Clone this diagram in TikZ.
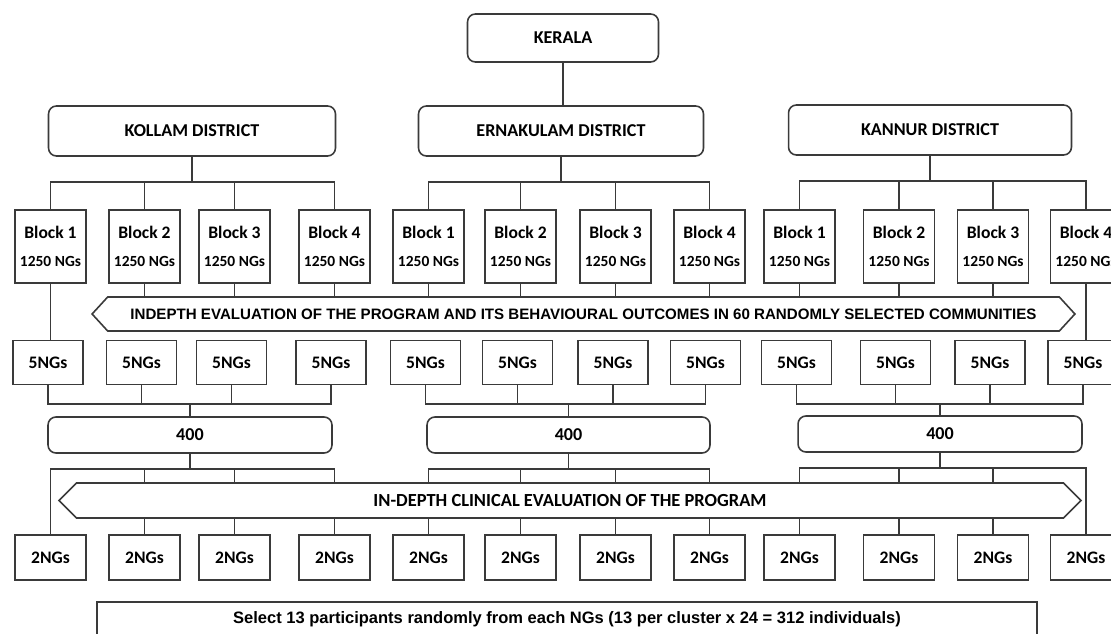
\documentclass[tikz,border=0pt]{standalone}
\usepackage{fontspec}
\setmainfont{Carlito}
\newfontfamily\heavyfont{Liberation Sans}
\usetikzlibrary{shapes.symbols}
\definecolor{linegray}{HTML}{3A3A3A}
\tikzset{dbox/.style={draw=linegray,line width=.9pt,rounded corners=4.5pt,minimum height=1cm,inner sep=0pt,font=\bfseries\fontsize{10.3}{12}\selectfont},blk/.style={draw=linegray,line width=.9pt,minimum width=1.42cm,minimum height=1.46cm,inner sep=0pt,align=center,font=\bfseries\fontsize{10}{16}\selectfont},ng/.style={draw=linegray,line width=.9pt,minimum width=1.4cm,minimum height=.88cm,inner sep=0pt,font=\bfseries\fontsize{10}{12}\selectfont},band/.style={signal,signal to=west and east,draw=linegray,line width=.9pt,fill=white,inner sep=0pt},ln/.style={draw=linegray,line width=.9pt}}
\begin{document}
\begin{tikzpicture}[x=0.02cm,y=-0.02cm]
\useasboundingbox (0,0) rectangle (1111,634);\fill[white] (0,0) rectangle (1111,634);\clip (0,0) rectangle (1111,634);
\node[dbox,minimum width=3.82cm,minimum height=.96cm] (ker) at (563,38) {KERALA};
\node[dbox,minimum width=5.74cm] (d1) at (192,131) {KOLLAM DISTRICT};\node[dbox,minimum width=5.7cm] (d2) at (561,131) {ERNAKULAM DISTRICT};\node[dbox,minimum width=5.66cm] (d3) at (930,130) {KANNUR DISTRICT};
\foreach \g/\i/\xa/\xb in {1/1/50.5/48,1/2/144.5/141.5,1/3/234.5/231.5,1/4/334.5/331,2/1/428.5/425.5,2/2/520.5/517.5,2/3/615.5/613,2/4/709.5/705.5,3/1/799.5/796.5,3/2/899/895.5,3/3/993/990,3/4/1086/1083}{\node[blk] (b\g\i) at (\xa,246.5) {Block \i\\\fontsize{8.8}{16}\selectfont 1250 NGs};\node[ng] (f\g\i) at (\xb,362.5) {5NGs};\node[ng,minimum width=1.42cm,minimum height=.9cm] (t\g\i) at (\xa,557.5) {2NGs};}
\node[dbox,minimum width=5.68cm,minimum height=.72cm] (c1) at (190,435) {400};\node[dbox,minimum width=5.66cm,minimum height=.72cm] (c2) at (568.5,435) {400};\node[dbox,minimum width=5.68cm,minimum height=.72cm] (c3) at (940,434) {400};
\node[band,signal pointer angle=95,minimum width=19.66cm,minimum height=.68cm,font=\heavyfont\bfseries\fontsize{8.6}{10}\selectfont] (ev1) at (583.5,314) {INDEPTH EVALUATION OF THE PROGRAM AND ITS BEHAVIOURAL OUTCOMES IN 60 RANDOMLY SELECTED COMMUNITIES};
% tree lines
\draw[ln] (ker.south) -- (ker.south |- d2.north);
\foreach \g in {1,2,3}{\foreach \i in {1,...,4}{\draw[ln] (d\g.south) -- ++(0,25) -| (b\g\i.north);\draw[ln] (f\g\i.south) -- ++(0,19) -| (c\g.north);\draw[ln] (c\g.south) -- ++(0,15) -| (t\g\i.north);}}
\foreach \n in {12,13,14,21,22,23,24,31,32,33}\draw[ln] (b\n.south) -- (b\n.south |- ev1.north);
\draw[ln] (b11.south) -- (b11.south |- f11.north);\draw[ln] (b34.south) -- (b34.south |- f34.north);
\node[band,signal pointer angle=90,minimum width=20.44cm,minimum height=.7cm,font=\bfseries\fontsize{10.5}{12}\selectfont] (ev2) at (570,500.5) {IN-DEPTH CLINICAL EVALUATION OF THE PROGRAM};
\node[draw=linegray,line width=.9pt,minimum width=18.8cm,minimum height=.68cm,inner sep=0pt,font=\heavyfont\bfseries\fontsize{9.4}{11}\selectfont] (sel) at (567,619) {Select 13 participants randomly from each NGs (13 per cluster x 24 = 312 individuals)};
\end{tikzpicture}
\end{document}
